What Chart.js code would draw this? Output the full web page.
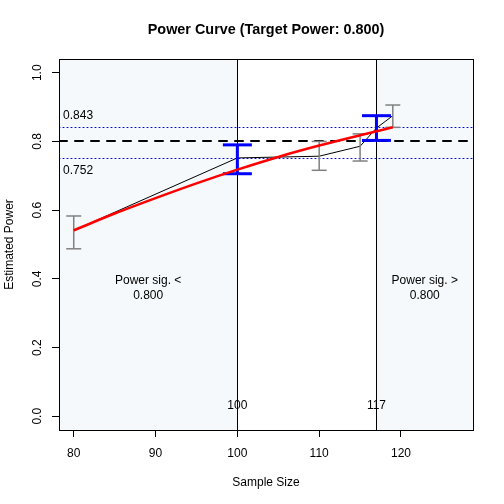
<!DOCTYPE html>
<html><head><meta charset="utf-8">
<script src="https://cdn.jsdelivr.net/npm/chart.js@4"></script>
<style>html,body{margin:0;padding:0;background:#fff}#wrap{width:504px;height:504px}</style>
</head><body><div id="wrap"><canvas id="c" width="504" height="504"></canvas></div>
<script>
// ---- data ----
const sampleSizes = [80, 100, 110, 115, 117, 119];
const estPower    = [0.541, 0.752, 0.757, 0.786, 0.839, 0.875];
const ciLower     = [0.4875, 0.706, 0.716, 0.743, 0.803, 0.841];
const ciUpper     = [0.583, 0.790, 0.800, 0.822, 0.875, 0.906];
const highlighted = [false, true, false, false, true, false];
const fitX        = [80, 85, 90, 95, 100, 105, 110, 115, 119];
const fitPower    = [0.541, 0.590, 0.635, 0.678, 0.718, 0.755, 0.788, 0.818, 0.841];
const targetPower = 0.8;
const ciBand      = [0.752, 0.843];
const boundaryN   = [100, 117];
const xTicks      = [80, 90, 100, 110, 120];
const yTicks      = [0, 0.2, 0.4, 0.6, 0.8, 1.0];
const yTickLabels = ['0.0', '0.2', '0.4', '0.6', '0.8', '1.0'];
const xRange      = [78.2, 128.8];
const yRange      = [-0.04, 1.04];
const titleText   = 'Power Curve (Target Power: ' + targetPower.toFixed(3) + ')';
const xTitle      = 'Sample Size';
const yTitle      = 'Estimated Power';

const FONT = "'Liberation Sans', Arial, Helvetica, sans-serif";
Chart.defaults.font.family = FONT;
Chart.defaults.color = '#000';

function barPoints(flag) {
  const pts = [];
  sampleSizes.forEach((n, i) => {
    if (highlighted[i] === flag) {
      pts.push({x: n, y: ciLower[i]}, {x: n, y: ciUpper[i]}, {x: n, y: null});
    }
  });
  return pts;
}

const px = (c, v) => c.scales.x.getPixelForValue(v);
const py = (c, v) => c.scales.y.getPixelForValue(v);
const crisp = p => Math.round(p) + 0.5;

const decor = {
  id: 'decor',
  beforeDatasetsDraw(chart) {
    const {ctx, chartArea: a} = chart;
    ctx.save();
    ctx.beginPath(); ctx.rect(a.left, a.top, a.width, a.height); ctx.clip();
    const xL = px(chart, boundaryN[0]), xR = px(chart, boundaryN[1]);
    ctx.fillStyle = '#F5F9FB';
    ctx.fillRect(a.left, a.top, xL - a.left, a.height);
    ctx.fillRect(xR, a.top, a.right - xR, a.height);
    ctx.strokeStyle = '#000'; ctx.lineWidth = 1;
    boundaryN.forEach(n => {
      const x = crisp(px(chart, n));
      ctx.beginPath(); ctx.moveTo(x, a.top); ctx.lineTo(x, a.bottom); ctx.stroke();
    });
    ctx.strokeStyle = '#0000FF'; ctx.lineWidth = 1; ctx.lineCap = 'round'; ctx.setLineDash([1, 3]);
    ciBand.forEach(v => {
      const y = crisp(py(chart, v));
      ctx.beginPath(); ctx.moveTo(a.left, y); ctx.lineTo(a.right, y); ctx.stroke();
    });
    ctx.strokeStyle = '#000'; ctx.lineWidth = 2; ctx.setLineDash([8, 8]);
    const yt = Math.round(py(chart, targetPower));
    ctx.beginPath(); ctx.moveTo(a.left, yt); ctx.lineTo(a.right, yt); ctx.stroke();
    ctx.restore();
  },
  afterDraw(chart) {
    const {ctx, chartArea: a} = chart;
    ctx.save();
    ctx.strokeStyle = '#000'; ctx.lineWidth = 1;
    ctx.strokeRect(crisp(a.left), crisp(a.top), Math.round(a.right) - Math.round(a.left), Math.round(a.bottom) - Math.round(a.top));
    ctx.fillStyle = '#000';
    ctx.font = '12px ' + FONT;
    ctx.textBaseline = 'middle';
    // CI band labels
    ctx.textAlign = 'left';
    ctx.fillText(ciBand[1].toFixed(3), px(chart, xRange[0] + 0.5), py(chart, ciBand[1] + 0.031));
    ctx.fillText(ciBand[0].toFixed(3), px(chart, xRange[0] + 0.5), py(chart, ciBand[0] - 0.038));
    // boundary labels
    ctx.textAlign = 'center';
    boundaryN.forEach(n => ctx.fillText(String(n), px(chart, n), py(chart, 0.03)));
    // region labels
    const xLeft = (xRange[0] + boundaryN[0]) / 2, xRight = (boundaryN[1] + xRange[1]) / 2;
    ctx.fillText('Power sig. <', px(chart, xLeft), py(chart, 0.396));
    ctx.fillText(targetPower.toFixed(3), px(chart, xLeft), py(chart, 0.352));
    ctx.fillText('Power sig. >', px(chart, xRight), py(chart, 0.396));
    ctx.fillText(targetPower.toFixed(3), px(chart, xRight), py(chart, 0.352));
    ctx.restore();
  }
};

new Chart(document.getElementById('c'), {
  type: 'scatter',
  data: {
    datasets: [
      { label: 'fit', data: fitX.map((x, i) => ({x, y: fitPower[i]})), showLine: true,
        borderColor: '#FF0000', borderWidth: 2.6, pointRadius: 0, cubicInterpolationMode: 'monotone' },
      { label: 'ci-blue', data: barPoints(true), showLine: true, spanGaps: false,
        borderColor: '#0000FF', borderWidth: 3, pointStyle: 'line', pointRadius: 14.5,
        pointBorderColor: '#0000FF', pointBorderWidth: 3, pointBackgroundColor: '#0000FF' },
      { label: 'ci-gray', data: barPoints(false), showLine: true, spanGaps: false,
        borderColor: '#808080', borderWidth: 1.5, pointStyle: 'line', pointRadius: 7.5,
        pointBorderColor: '#808080', pointBorderWidth: 1.5, pointBackgroundColor: '#808080' },
      { label: 'est', data: sampleSizes.map((x, i) => ({x, y: estPower[i]})), showLine: true,
        borderColor: '#000', borderWidth: 1, pointRadius: 0, tension: 0 }
    ]
  },
  options: {
    responsive: false, animation: false, events: [],
    layout: { padding: { left: 0, right: 31, top: 0, bottom: 0 } },
    plugins: {
      legend: { display: false }, tooltip: { enabled: false },
      title: { display: true, text: titleText, fullSize: false, align: 'center', color: '#000',
        font: { family: FONT, size: 14.4, weight: 'bold', lineHeight: 1.2 },
        padding: { top: 21.6, bottom: 20.12 } }
    },
    scales: {
      x: {
        type: 'linear', position: 'bottom', min: xRange[0], max: xRange[1],
        afterBuildTicks: s => { s.ticks = xTicks.map(v => ({value: v})); },
        afterFit: s => { s.height = 74; },
        grid: { display: true, drawOnChartArea: false, drawTicks: true, tickLength: 7, color: '#000', lineWidth: 1 },
        border: { display: false },
        ticks: { autoSkip: false, maxRotation: 0, minRotation: 0, padding: 9.5, color: '#000',
          font: { family: FONT, size: 12 }, callback: v => String(v) },
        title: { display: true, text: xTitle, color: '#000', font: { family: FONT, size: 12 },
          padding: { top: 0, bottom: 14.3 } }
      },
      y: {
        type: 'linear', position: 'left', min: yRange[0], max: yRange[1],
        afterBuildTicks: s => { s.ticks = yTicks.map(v => ({value: v})); },
        afterFit: s => { s.width = 59; },
        grid: { display: true, drawOnChartArea: false, drawTicks: true, tickLength: 7, color: '#000', lineWidth: 1 },
        border: { display: false },
        ticks: { autoSkip: false, minRotation: 90, maxRotation: 90, crossAlign: 'center', padding: 5.6, color: '#000',
          font: { family: FONT, size: 12 },
          callback: v => { const i = yTicks.findIndex(t => Math.abs(t - v) < 1e-9); return i >= 0 ? yTickLabels[i] : ''; } },
        title: { display: true, text: yTitle, color: '#000', font: { family: FONT, size: 12 },
          padding: { top: 2.8, bottom: 0 } }
      }
    }
  },
  plugins: [decor]
});
</script>
</body></html>
